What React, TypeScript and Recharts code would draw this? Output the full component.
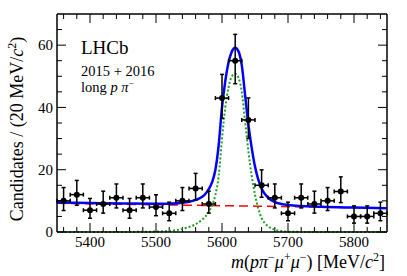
import { ComposedChart, Line, Scatter, ErrorBar, XAxis, YAxis, Label, ReferenceLine } from "recharts";

// binned data, 20 MeV bins
const binCenters = [5360, 5380, 5400, 5420, 5440, 5460, 5480, 5500, 5520, 5540, 5560, 5580, 5600, 5620, 5640, 5660, 5680, 5700, 5720, 5740, 5760, 5780, 5800, 5820, 5840];
const counts = [10, 12, 7, 9, 11, 7, 11, 8, 6, 10, 14, 9, 43, 55, 36, 15, 11, 6, 11, 9, 10, 13, 5, 5, 6];
const errLow = [3.11, 3.42, 2.58, 2.94, 3.27, 2.58, 3.27, 2.77, 2.38, 3.11, 3.71, 2.94, 6.53, 7.39, 5.97, 3.85, 3.27, 2.38, 3.27, 2.94, 3.11, 3.57, 2.16, 2.16, 2.38];
const errHigh = [4.27, 4.56, 3.77, 4.11, 4.42, 3.77, 4.42, 3.95, 3.58, 4.27, 4.83, 4.11, 7.6, 8.46, 7.05, 4.96, 4.42, 3.58, 4.42, 4.11, 4.27, 4.7, 3.38, 3.38, 3.58];
const binHalfWidth = 10;

// fit curves
const totalMass = [5350, 5400, 5450, 5500, 5520, 5540, 5550, 5560, 5570, 5575, 5580, 5585, 5590, 5595, 5600, 5605, 5610, 5615, 5620, 5625, 5630, 5635, 5640, 5645, 5650, 5655, 5660, 5665, 5670, 5680, 5690, 5700, 5750, 5800, 5850];
const totalFit = [9.45, 9.3, 9.15, 9.05, 9.1, 9.4, 9.7, 10.3, 11.3, 12.3, 13.8, 16.0, 20.0, 28.0, 40.0, 48.5, 54.5, 58.0, 59.2, 58.0, 53.5, 44.0, 34.5, 27.0, 21.0, 16.8, 14.0, 12.2, 11.0, 9.6, 9.0, 8.7, 8.1, 7.85, 7.65];

const signalMass = [5350, 5450, 5500, 5520, 5530, 5540, 5550, 5560, 5570, 5575, 5580, 5585, 5590, 5595, 5600, 5605, 5610, 5615, 5620, 5625, 5630, 5635, 5640, 5645, 5650, 5655, 5660, 5665, 5670, 5680, 5690, 5700, 5750, 5850];
const signalFit = [0, 0.02, 0.15, 0.35, 0.6, 1.0, 1.6, 2.5, 4.0, 5.0, 6.5, 8.5, 12.0, 18.0, 30.0, 40.0, 46.5, 50.0, 50.8, 49.5, 45.0, 35.5, 26.0, 18.0, 12.0, 7.5, 4.5, 2.8, 1.8, 0.7, 0.3, 0.1, 0, 0];

const bkgMass = [5350, 5450, 5550, 5650, 5750, 5850];
const bkgFit = [9.2, 8.9, 8.6, 8.3, 8.0, 7.6];

const xMajorTicks = [5400, 5500, 5600, 5700, 5800];
const xMinorTicks = [5360, 5380, 5420, 5440, 5460, 5480, 5520, 5540, 5560, 5580, 5620, 5640, 5660, 5680, 5720, 5740, 5760, 5780, 5820, 5840];
const yMajorTicks = [0, 20, 40, 60];
const yMinorTicks = [5, 10, 15, 25, 30, 35, 45, 50, 55, 65];

const points = binCenters.map((m, i) => ({ m, y: counts[i], ey: [errLow[i], errHigh[i]], ex: binHalfWidth }));
const total = totalMass.map((m, i) => ({ m, y: totalFit[i] }));
const signal = signalMass.map((m, i) => ({ m, y: signalFit[i] }));
const bkg = bkgMass.map((m, i) => ({ m, y: bkgFit[i] }));

const FONT = "'Liberation Serif', 'DejaVu Serif', serif";
const X_MIN = 5350;
const X_MAX = 5850;
const Y_MIN = 0;
const Y_MAX = 70;
const frame = { stroke: "#000", strokeWidth: 1.5 };

// inward tick lengths, in axis units (≈9 px major, 5 px minor)
const X_MAJ = 13.6, X_MIN_LEN = 7.6;
const Y_MAJ = 2.9, Y_MIN_LEN = 1.6;

const Dot = (p: any) => <circle cx={p.cx} cy={p.cy} r={3} fill="#000" />;

const tickSeg = (key: string, a: { x: number; y: number }, b: { x: number; y: number }) => (
  <ReferenceLine key={key} xAxisId="b" yAxisId="l" segment={[a, b]} stroke="#000" strokeWidth={1} ifOverflow="visible" />
);

function frameTicks() {
  const out: any[] = [];
  xMajorTicks.forEach((v) => {
    out.push(tickSeg(`bx${v}`, { x: v, y: Y_MIN }, { x: v, y: Y_MIN + Y_MAJ }));
    out.push(tickSeg(`tx${v}`, { x: v, y: Y_MAX }, { x: v, y: Y_MAX - Y_MAJ }));
  });
  xMinorTicks.forEach((v) => {
    out.push(tickSeg(`bxm${v}`, { x: v, y: Y_MIN }, { x: v, y: Y_MIN + Y_MIN_LEN }));
    out.push(tickSeg(`txm${v}`, { x: v, y: Y_MAX }, { x: v, y: Y_MAX - Y_MIN_LEN }));
  });
  yMajorTicks.forEach((v) => {
    out.push(tickSeg(`ly${v}`, { x: X_MIN, y: v }, { x: X_MIN + X_MAJ, y: v }));
    out.push(tickSeg(`ry${v}`, { x: X_MAX, y: v }, { x: X_MAX - X_MAJ, y: v }));
  });
  yMinorTicks.forEach((v) => {
    out.push(tickSeg(`lym${v}`, { x: X_MIN, y: v }, { x: X_MIN + X_MIN_LEN, y: v }));
    out.push(tickSeg(`rym${v}`, { x: X_MAX, y: v }, { x: X_MAX - X_MIN_LEN, y: v }));
  });
  return out;
}

export default function App() {
  return (
    <div style={{ position: "absolute", left: 0, top: 0, background: "#fff" }}>
      <ComposedChart width={407} height={276} margin={{ top: 14, right: 20, bottom: 0, left: 0 }}>
        <XAxis
          xAxisId="b"
          dataKey="m"
          type="number"
          domain={[X_MIN, X_MAX]}
          ticks={xMajorTicks}
          interval={0}
          height={44}
          tickLine={false}
          tickSize={0}
          tickMargin={4}
          axisLine={frame}
          tick={{ fill: "#000", fontSize: 15, fontFamily: FONT }}
        >
          <Label
            content={() => (
              <text x={385} y={268} textAnchor="end" fontFamily={FONT} fontSize={18} fill="#000">
                <tspan fontStyle="italic">m</tspan>
                <tspan>(</tspan>
                <tspan fontStyle="italic">p</tspan>
                <tspan fontStyle="italic">π</tspan>
                <tspan fontSize={12} dy={-7}>−</tspan>
                <tspan fontStyle="italic" dy={7}>μ</tspan>
                <tspan fontSize={12} dy={-7}>+</tspan>
                <tspan fontStyle="italic" dy={7}>μ</tspan>
                <tspan fontSize={12} dy={-7}>−</tspan>
                <tspan dy={7}>) [MeV/</tspan>
                <tspan fontStyle="italic">c</tspan>
                <tspan fontSize={12} dy={-7}>2</tspan>
                <tspan dy={7}>]</tspan>
              </text>
            )}
          />
        </XAxis>
        <YAxis
          yAxisId="l"
          dataKey="y"
          type="number"
          domain={[Y_MIN, Y_MAX]}
          ticks={yMajorTicks}
          interval={0}
          width={57}
          tickLine={false}
          tickSize={0}
          tickMargin={4}
          axisLine={frame}
          tick={{ fill: "#000", fontSize: 15, fontFamily: FONT }}
        >
          <Label
            content={() => (
              <text
                x={23}
                y={129}
                transform="rotate(-90, 23, 129)"
                textAnchor="middle"
                fontFamily={FONT}
                fontSize={18}
                fill="#000"
              >
                <tspan>Candidates / (20 MeV/</tspan>
                <tspan fontStyle="italic">c</tspan>
                <tspan fontSize={12} dy={-7}>2</tspan>
                <tspan dy={7}>)</tspan>
              </text>
            )}
          />
        </YAxis>

        {/* top and right frame + inward ticks */}
        <ReferenceLine xAxisId="b" yAxisId="l" y={Y_MAX} stroke="#000" strokeWidth={1.5} ifOverflow="visible" />
        <ReferenceLine xAxisId="b" yAxisId="l" x={X_MAX} stroke="#000" strokeWidth={1.5} ifOverflow="visible" />
        {frameTicks()}

        <Line xAxisId="b" yAxisId="l" data={bkg} dataKey="y" type="monotone" dot={false} stroke="#ff0000" strokeWidth={1.5} strokeDasharray="9 5" isAnimationActive={false} />
        <Line xAxisId="b" yAxisId="l" data={signal} dataKey="y" type="monotone" dot={false} stroke="#20a020" strokeWidth={2} strokeDasharray="2 2" isAnimationActive={false} />
        <Line xAxisId="b" yAxisId="l" data={total} dataKey="y" type="monotone" dot={false} stroke="#0000ff" strokeWidth={2.5} isAnimationActive={false} />
        <Scatter xAxisId="b" yAxisId="l" data={points} dataKey="y" shape={Dot} isAnimationActive={false}>
          <ErrorBar dataKey="ey" direction="y" width={2} stroke="#000" strokeWidth={1.5} />
          <ErrorBar dataKey="ex" direction="x" width={2} stroke="#000" strokeWidth={1.5} />
        </Scatter>

        <text x={81} y={54} fontFamily={FONT} fontSize={19} fill="#000">LHCb</text>
        <text x={81} y={76} fontFamily={FONT} fontSize={14.5} fill="#000">2015 + 2016</text>
        <text x={81} y={92} fontFamily={FONT} fontSize={14.5} fill="#000">
          <tspan>long </tspan>
          <tspan fontStyle="italic">p π</tspan>
          <tspan fontSize={9} dy={-6}>−</tspan>
        </text>
      </ComposedChart>
    </div>
  );
}
